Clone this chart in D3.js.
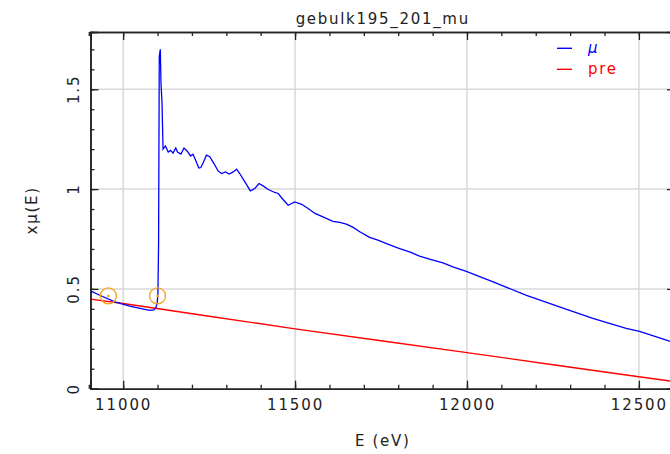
<!DOCTYPE html>
<html><head><meta charset="utf-8">
<script src="https://cdn.jsdelivr.net/npm/d3@7"></script>
<style>
body{margin:0;background:#fff;}
text{font-family:"DejaVu Sans",sans-serif;}
</style></head>
<body><svg id="c" width="670" height="454"></svg>
<script>
const muE = [10905,10932,10976,11019,11063,11078,11089,11095,11099,11101,11103,11105,11108,11110,11113,11116,
11123,11131,11138,11145,11153,11158,11168,11177,11186,11196,11203,11210,11220,11226,11233,11242,11252,11264,
11276,11286,11298,11308,11320,11330,11339,11354,11370,11383,11395,11407,11422,11441,11451,11465,11480,11499,
11519,11538,11558,11581,11610,11630,11649,11669,11688,11717,11741,11766,11804,11833,11862,11891,11930,11959,
11998,12076,12173,12269,12366,12463,12502,12589,12605];
const muV = [0.490,0.468,0.435,0.414,0.397,0.392,0.395,0.405,0.430,0.470,0.720,1.665,1.700,1.530,1.430,1.200,
1.216,1.186,1.194,1.180,1.206,1.186,1.175,1.206,1.191,1.166,1.175,1.148,1.106,1.108,1.133,1.170,1.162,1.128,
1.091,1.078,1.086,1.075,1.086,1.100,1.078,1.036,0.991,1.003,1.028,1.016,0.998,0.983,0.978,0.948,0.919,0.936,
0.924,0.903,0.878,0.861,0.838,0.833,0.824,0.808,0.786,0.758,0.744,0.727,0.702,0.685,0.664,0.649,0.630,0.610,
0.588,0.535,0.468,0.410,0.352,0.302,0.287,0.238,0.230];
const preE = [10905,11000,11250,11500,11750,12000,12250,12500,12605];
const preV = [0.449,0.427,0.363,0.300,0.240,0.181,0.120,0.060,0.035];
const markE = [10957,11100];
const markV = [0.465,0.465];
const xMajor = [11000,11500,12000,12500];
const xMinor = d3.range(10900,12700,100);
const yMajor = [0,0.5,1,1.5];
const yMinor = d3.range(0,1.8,0.1);
const yLabels = ["0","0.5","1","1.5"];

const L=90.5,R=675,T=32,B=388.7;
const x=d3.scaleLinear([10905,12605],[L,R]);
const y=d3.scaleLinear([0,1.787],[B,T]);
const svg=d3.select("#c");

svg.append("defs").append("clipPath").attr("id","clip").append("rect")
 .attr("x",L).attr("y",T).attr("width",R-L).attr("height",B-T);

// grid
const g=svg.append("g");
g.selectAll(".gx").data(xMajor).join("line").attr("x1",d=>x(d)).attr("x2",d=>x(d))
 .attr("y1",T).attr("y2",B).attr("stroke","#d8d8d8").attr("stroke-width",1.5);
g.selectAll(".gy").data(yMajor.slice(1)).join("line").attr("y1",d=>y(d)).attr("y2",d=>y(d))
 .attr("x1",L).attr("x2",R).attr("stroke","#d8d8d8").attr("stroke-width",1.5);

// data
const line=d3.line().x(d=>x(d[0])).y(d=>y(d[1]));
const dg=svg.append("g").attr("clip-path","url(#clip)");
dg.append("path").datum(preE.map((e,i)=>[e,preV[i]])).attr("d",line)
 .attr("fill","none").attr("stroke","#ff0000").attr("stroke-width",1.4);
dg.append("path").datum(muE.map((e,i)=>[e,muV[i]])).attr("d",line)
 .attr("fill","none").attr("stroke","#0000ff").attr("stroke-width",1.3);
markE.forEach((e,i)=>{
  dg.append("circle").attr("cx",x(e)).attr("cy",y(markV[i])).attr("r",8)
   .attr("fill","none").attr("stroke","#f5a623").attr("stroke-width",1.3);
  dg.append("circle").attr("cx",x(e)).attr("cy",y(markV[i])).attr("r",1.3)
   .attr("fill","#f5a623");
});

// axes
function style(sel){sel.select(".domain").attr("stroke","#222").attr("stroke-width",1.5);
 sel.selectAll(".tick line").attr("stroke","#222").attr("stroke-width",1.3);}
const ax=[
 [d3.axisBottom(x).tickValues(xMajor).tickSize(-8).tickPadding(11).tickFormat(d3.format("d")),`translate(0,${B})`],
 [d3.axisBottom(x).tickValues(xMinor).tickSize(-4).tickFormat(""),`translate(0,${B})`],
 [d3.axisTop(x).tickValues(xMajor).tickSize(-8).tickFormat(""),`translate(0,${T})`],
 [d3.axisTop(x).tickValues(xMinor).tickSize(-4).tickFormat(""),`translate(0,${T})`],
 [d3.axisLeft(y).tickValues(yMajor).tickSize(-8).tickFormat(""),`translate(${L},0)`],
 [d3.axisLeft(y).tickValues(yMinor).tickSize(-4).tickFormat(""),`translate(${L},0)`],
 [d3.axisRight(y).tickValues(yMajor).tickSize(-8).tickFormat(""),`translate(${R},0)`],
 [d3.axisRight(y).tickValues(yMinor).tickSize(-4).tickFormat(""),`translate(${R},0)`]
];
ax.forEach(([a,t])=>{const s=svg.append("g").attr("transform",t).call(a);style(s);
 s.selectAll("text").attr("font-family","DejaVu Sans").attr("font-size",15).attr("fill","#222").attr("letter-spacing","1.9px");});

svg.selectAll(".ylab").data(yMajor).join("text")
 .attr("transform",d=>`translate(79,${y(d)}) rotate(-90)`).attr("text-anchor","middle")
 .attr("font-size",15).attr("fill","#222").attr("letter-spacing","1.9px").text((d,i)=>yLabels[i]);

svg.append("text").attr("x",(L+R)/2).attr("y",24).attr("text-anchor","middle")
 .attr("font-size",15).attr("fill","#222").attr("letter-spacing","1.7px").text("gebulk195_201_mu");
svg.append("text").attr("x",(L+R)/2).attr("y",446).attr("text-anchor","middle")
 .attr("font-size",15).attr("fill","#222").attr("letter-spacing","1.7px").attr("xml:space","preserve").text("E (eV)");
svg.append("text").attr("transform",`translate(37,${(T+B)/2}) rotate(-90)`).attr("text-anchor","middle")
 .attr("font-size",15).attr("fill","#222").attr("letter-spacing","1.7px").text("xμ(E)");

// legend
const leg=[["μ","#0000ff",48.3,true],["pre","#ff0000",69.3,false]];
leg.forEach(([t,c,yy,it])=>{
 svg.append("line").attr("x1",557).attr("x2",572).attr("y1",yy).attr("y2",yy).attr("stroke",c).attr("stroke-width",1.4);
 svg.append("text").attr("x",588).attr("y",yy+5).attr("font-size",15).attr("fill",c)
  .attr("letter-spacing","1.7px").attr("font-style",it?"italic":"normal").text(t);
});
</script></body></html>
